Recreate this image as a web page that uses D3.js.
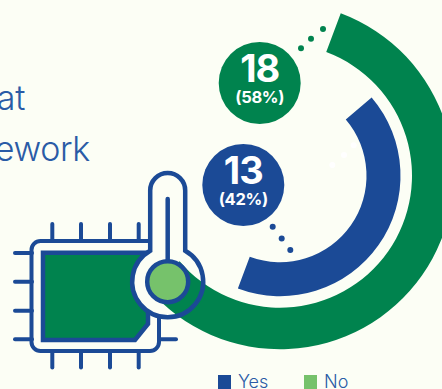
<!DOCTYPE html>
<html>
<head>
<meta charset="utf-8">
<script src="https://d3js.org/d3.v7.min.js"></script>
<style>
  html, body { margin: 0; padding: 0; background: #fcfef5; overflow: hidden; }
  svg { display: block; }
</style>
</head>
<body>
<svg id="chart" width="442" height="389"></svg>
<script>
// Survey counts and their shares
const counts = [18, 13];
const shares = ["(58%)", "(42%)"];
const total = 31;
const startDegrees = [20.5, 49.5];
const arcColors = ["#00834e", "#1b4a96"];
const headingLines = ["at", "ework"];
const legendLabels = ["Yes", "No"];
const legendColors = ["#1b4a96", "#76c26b"];
const topPins = [52.3, 81, 110, 138.7];
const sidePins = [253, 281.7, 310.7, 339.3];

const BG = "#fcfef5", BLUE = "#1b4a96", GREEN = "#00834e", LIGHT = "#76c26b";
const svg = d3.select("#chart");
const cx = 280, cy = 175.7;
const rad = d => d * Math.PI / 180;

// Sweep angle is proportional to the count, over a full turn
const sweep = d3.scaleLinear().domain([0, total]).range([0, 360]);
const rings = [{ inner: 132, outer: 173.5 }, { inner: 86.5, outer: 120.5 }];
const arcGen = d3.arc();
const arcPath = i => arcGen({
  innerRadius: rings[i].inner,
  outerRadius: rings[i].outer,
  startAngle: rad(startDegrees[i]),
  endAngle: rad(startDegrees[i] + sweep(counts[i]))
});

// Heading fragment, cut by the left edge
svg.selectAll("text.heading").data(headingLines).join("text")
  .attr("class", "heading")
  .attr("x", (d, i) => [25, 90][i])
  .attr("y", (d, i) => [110, 161][i])
  .attr("text-anchor", "end")
  .attr("font-family", "Inter")
  .attr("font-weight", 300)
  .attr("font-size", 34)
  .attr("letter-spacing", -0.3)
  .attr("fill", "#2a5ba6")
  .text(d => d);

// Chip: pins, package outline and green die
const chip = svg.append("g")
  .attr("stroke", BLUE).attr("stroke-width", 4).attr("stroke-linecap", "round").attr("fill", "none");
chip.selectAll("line.top").data(topPins).join("line").attr("class", "top")
  .attr("x1", d => d).attr("x2", d => d).attr("y1", 224).attr("y2", 241);
chip.selectAll("line.bottom").data(topPins).join("line").attr("class", "bottom")
  .attr("x1", d => d).attr("x2", d => d).attr("y1", 351).attr("y2", 367.5);
chip.selectAll("line.left").data(sidePins).join("line").attr("class", "left")
  .attr("x1", 15).attr("x2", 32).attr("y1", d => d).attr("y2", d => d);
chip.append("line").attr("x1", 159).attr("x2", 176).attr("y1", 339.3).attr("y2", 339.3);
chip.append("rect").attr("x", 31.5).attr("y", 241).attr("width", 127.5).attr("height", 110).attr("rx", 9);
const die = d3.path();
die.moveTo(43, 252.7); die.lineTo(148, 252.7); die.lineTo(148, 324); die.lineTo(135, 340); die.lineTo(43, 340); die.closePath();
svg.append("path").attr("d", die.toString())
  .attr("fill", GREEN).attr("stroke", BLUE).attr("stroke-width", 4.5).attr("stroke-linejoin", "miter");

// Thermometer silhouette
const bx = 167.7, by = 281.7, bulbR = 35.5, tubeR = 17.5, tubeTop = 190.5;
const thermo = d3.path();
const neckDy = Math.sqrt(bulbR * bulbR - tubeR * tubeR);
const a0 = Math.atan2(-neckDy, tubeR), a1 = Math.atan2(-neckDy, -tubeR);
thermo.moveTo(bx - tubeR, by - neckDy);
thermo.lineTo(bx - tubeR, tubeTop);
thermo.arc(bx, tubeTop, tubeR, Math.PI, 0, false);
thermo.lineTo(bx + tubeR, by - neckDy);
thermo.arc(bx, by, bulbR, a0, a1, false);
thermo.closePath();
svg.append("path").attr("d", thermo.toString()).attr("fill", BG);

// Donut arcs
svg.selectAll("path.slice").data(counts).join("path")
  .attr("class", "slice")
  .attr("transform", `translate(${cx},${cy})`)
  .attr("d", (d, i) => arcPath(i))
  .attr("fill", (d, i) => arcColors[i]);

// Thermometer outline, stem and bulb on top of the arc
svg.append("path").attr("d", thermo.toString())
  .attr("fill", "none").attr("stroke", BLUE).attr("stroke-width", 4.5);
svg.append("line").attr("x1", bx).attr("x2", bx).attr("y1", 199).attr("y2", by - 20)
  .attr("stroke", BLUE).attr("stroke-width", 4.5).attr("stroke-linecap", "round");
svg.append("circle").attr("cx", bx).attr("cy", by).attr("r", 20.5)
  .attr("fill", LIGHT).attr("stroke", BLUE).attr("stroke-width", 4.5);

// Dotted leaders
const greenDots = [[301, 48.3], [311, 38.7], [323, 29]];
const blueDots = [[272.7, 226.7], [281.7, 238.5], [290.3, 250]];
const paleDots = [[332.3, 165], [344, 155], [353.7, 145.3]];
[[greenDots, GREEN], [blueDots, BLUE], [paleDots, "#ffffff"]].forEach(([pts, col]) => {
  svg.append("g").selectAll("circle").data(pts).join("circle")
    .attr("cx", d => d[0]).attr("cy", d => d[1]).attr("r", 3).attr("fill", col);
});

// Value badges
const badgeCenters = [[259.7, 83], [243.3, 185]];
const badge = svg.selectAll("g.badge").data(counts).join("g")
  .attr("class", "badge")
  .attr("transform", (d, i) => `translate(${badgeCenters[i]})`);
badge.append("circle").attr("r", 41).attr("fill", (d, i) => arcColors[i]);
badge.append("text").attr("y", -1).attr("text-anchor", "middle")
  .attr("font-family", "Inter").attr("font-weight", 700).attr("font-size", 38)
  .attr("letter-spacing", -1)
  .attr("fill", "#fff").text(d => d);
badge.append("text").attr("y", 20).attr("text-anchor", "middle")
  .attr("font-family", "Inter").attr("font-weight", 700).attr("font-size", 16.5)
  .attr("letter-spacing", -0.3)
  .attr("fill", "#fff").text((d, i) => shares[i]);

// Legend
const legend = svg.selectAll("g.key").data(legendLabels).join("g")
  .attr("class", "key")
  .attr("transform", (d, i) => `translate(${[218, 304][i]},375)`);
legend.append("rect").attr("width", 13).attr("height", 14).attr("fill", (d, i) => legendColors[i]);
legend.append("text").attr("x", 20).attr("y", 13)
  .attr("font-family", "Inter").attr("font-weight", 300).attr("font-size", 18).attr("fill", "#2a5ba6").text(d => d);
</script>
</body>
</html>
